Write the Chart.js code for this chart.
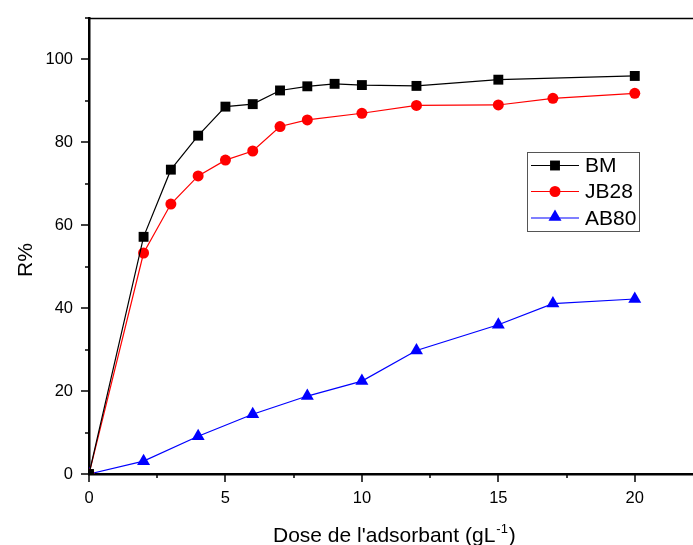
<!DOCTYPE html>
<html>
<head>
<meta charset="utf-8">
<script src="https://cdn.jsdelivr.net/npm/chart.js@4/dist/chart.umd.min.js"></script>
<style>
  html, body { margin: 0; padding: 0; background: #fff; overflow: hidden; }
  #wrap { width: 713px; height: 545px; }
</style>
</head>
<body>
<div id="wrap"><canvas id="chart" width="713" height="545"></canvas></div>
<script>
// Data
const doseBM = [0, 2, 3, 4, 5, 6, 7, 8, 9, 10, 12, 15, 20];
const rBM = [0, 57.2, 73.4, 81.6, 88.6, 89.2, 92.5, 93.5, 94.1, 93.8, 93.6, 95.1, 96.0];

const doseJB28 = [0, 2, 3, 4, 5, 6, 7, 8, 10, 12, 15, 17, 20];
const rJB28 = [0, 53.3, 65.1, 71.9, 75.7, 77.9, 83.8, 85.4, 87.0, 88.9, 89.0, 90.6, 91.8];

const doseAB80 = [0, 2, 4, 6, 8, 10, 12, 15, 17, 20];
const rAB80 = [0, 3.1, 9.1, 14.4, 18.8, 22.4, 29.8, 36.0, 41.1, 42.2];

const seriesNames = ['BM', 'JB28', 'AB80'];
const seriesColors = ['#000000', '#ff0000', '#0000ff'];
const seriesMarkers = ['rect', 'circle', 'triangle'];
const markerSizes = [7, 5.5, 7.5];

const xTitle = "Dose de l'adsorbant (gL";
const xTitleSup = '-1';
const yTitle = 'R%';

const FONT = '"Liberation Sans", Arial, sans-serif';

function toPoints(xs, ys) {
  return xs.map((x, i) => ({ x, y: ys[i] }));
}

// Draw a marker like Chart.js does (used for the legend samples)
function drawMarker(ctx, kind, r, x, y, color) {
  ctx.fillStyle = color;
  ctx.beginPath();
  if (kind === 'rect') {
    const s = Math.SQRT1_2 * r;
    ctx.rect(x - s, y - s, 2 * s, 2 * s);
  } else if (kind === 'circle') {
    ctx.arc(x, y, r, 0, Math.PI * 2);
  } else {
    ctx.moveTo(x, y - r);
    ctx.lineTo(x + r * Math.sin(Math.PI / 3), y + r / 2);
    ctx.lineTo(x - r * Math.sin(Math.PI / 3), y + r / 2);
    ctx.closePath();
  }
  ctx.fill();
}

// Minor/major ticks, top frame, axis titles and the boxed legend
const framePlugin = {
  id: 'frame',
  afterDraw(chart) {
    const { ctx, chartArea: a, scales: { x, y } } = chart;
    ctx.save();

    // tick marks (outward), major ones longer
    ctx.strokeStyle = '#000';
    ctx.lineWidth = 1.5;
    x.ticks.forEach((t) => {
      const px = Math.round(x.getPixelForValue(t.value));
      if (px > a.right - 1) return;
      const len = t.value % 5 === 0 ? 8 : 4;
      ctx.beginPath();
      ctx.moveTo(px, a.bottom);
      ctx.lineTo(px, a.bottom + len);
      ctx.stroke();
    });
    y.ticks.forEach((t) => {
      const py = Math.round(y.getPixelForValue(t.value));
      const len = t.value % 20 === 0 ? 8 : 4;
      ctx.beginPath();
      ctx.moveTo(a.left, py);
      ctx.lineTo(a.left - len, py);
      ctx.stroke();
    });

    // top frame line
    ctx.lineWidth = 1.5;
    ctx.beginPath();
    ctx.moveTo(a.left, a.top + 0.5);
    ctx.lineTo(a.right, a.top + 0.5);
    ctx.stroke();

    // x title with superscript
    ctx.fillStyle = '#000';
    ctx.textBaseline = 'alphabetic';
    ctx.textAlign = 'left';
    ctx.font = '21px ' + FONT;
    let tx = 273;
    ctx.fillText(xTitle, tx, 542);
    tx += ctx.measureText(xTitle).width + 1;
    ctx.font = '13px ' + FONT;
    ctx.fillText(xTitleSup, tx, 533);
    tx += ctx.measureText(xTitleSup).width;
    ctx.font = '21px ' + FONT;
    ctx.fillText(')', tx + 1, 542);

    // y title
    ctx.save();
    ctx.translate(31.5, 260);
    ctx.rotate(-Math.PI / 2);
    ctx.textAlign = 'center';
    ctx.textBaseline = 'alphabetic';
    ctx.font = '21px ' + FONT;
    ctx.fillText(yTitle, 0, 0);
    ctx.restore();

    // legend box
    ctx.strokeStyle = '#555';
    ctx.lineWidth = 1;
    ctx.strokeRect(527.5, 152.5, 112, 79);
    const rows = [165.5, 191.5, 218];
    seriesNames.forEach((name, i) => {
      const ly = rows[i];
      ctx.strokeStyle = seriesColors[i];
      ctx.lineWidth = 1.2;
      ctx.beginPath();
      ctx.moveTo(531, ly);
      ctx.lineTo(579, ly);
      ctx.stroke();
      const my = seriesMarkers[i] === 'triangle' ? ly - 1 : ly;
      drawMarker(ctx, seriesMarkers[i], markerSizes[i], 555, my, seriesColors[i]);
      ctx.fillStyle = '#000';
      ctx.font = '21px ' + FONT;
      ctx.textAlign = 'left';
      ctx.textBaseline = 'middle';
      ctx.fillText(name, 585, ly + 1);
    });

    ctx.restore();
  },
};

Chart.defaults.color = '#000';
Chart.defaults.font.family = FONT;

const seriesData = [toPoints(doseBM, rBM), toPoints(doseJB28, rJB28), toPoints(doseAB80, rAB80)];

new Chart(document.getElementById('chart'), {
  type: 'line',
  data: {
    datasets: seriesNames.map((name, i) => ({
      label: name,
      data: seriesData[i],
      borderColor: seriesColors[i],
      backgroundColor: seriesColors[i],
      borderWidth: 1.2,
      pointStyle: seriesMarkers[i],
      pointRadius: markerSizes[i],
      pointBorderWidth: 0,
      tension: 0,
      fill: false,
    })),
  },
  options: {
    responsive: false,
    animation: false,
    devicePixelRatio: 1,
    layout: { padding: { top: 15, right: 10, left: 0, bottom: 0 } },
    plugins: {
      legend: { display: false },
      tooltip: { enabled: false },
    },
    scales: {
      x: {
        type: 'linear',
        min: 0,
        max: 22.5,
        afterFit: (s) => { s.height = 71; },
        ticks: {
          stepSize: 2.5,
          font: { size: 16.5 },
          padding: 7,
          maxRotation: 0,
          autoSkip: false,
          callback: (v) => (v % 5 === 0 && v <= 20 ? String(v) : ''),
        },
        grid: { drawOnChartArea: false, drawTicks: true, tickLength: 8, tickColor: 'rgba(0,0,0,0)', color: 'rgba(0,0,0,0)' },
        border: { color: '#000', width: 2.5 },
      },
      y: {
        type: 'linear',
        min: 0,
        max: 110,
        afterFit: (s) => { s.width = 89; },
        ticks: {
          stepSize: 10,
          font: { size: 16.5 },
          padding: 8,
          autoSkip: false,
          callback: (v) => (v % 20 === 0 ? String(v) : ''),
        },
        grid: { drawOnChartArea: false, drawTicks: true, tickLength: 8, tickColor: 'rgba(0,0,0,0)', color: 'rgba(0,0,0,0)' },
        border: { color: '#000', width: 2.5 },
      },
    },
  },
  plugins: [framePlugin],
});
</script>
</body>
</html>
